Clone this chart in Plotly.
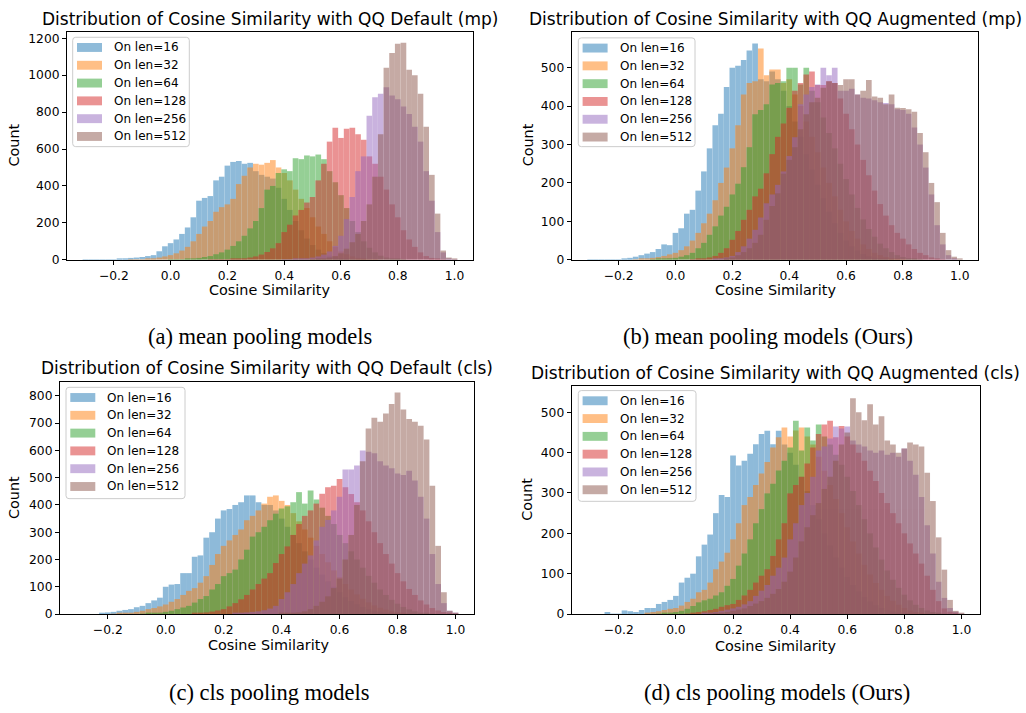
import plotly.graph_objects as go

W, H = 1026, 713
BIN_W = 0.02
# histogram bin centres from -0.30 to 1.00 (66 bins of width 0.02)
bin_centers = [round(-0.30 + BIN_W * i, 2) for i in range(66)]

labels = ["On len=16", "On len=32", "On len=64", "On len=128", "On len=256", "On len=512"]
colors = ["#1f77b4", "#ff7f0e", "#2ca02c", "#d62728", "#9467bd", "#8c564b"]
colors_alpha = ["rgba(31,119,180,0.5)", "rgba(255,127,14,0.5)", "rgba(44,160,44,0.5)",
                "rgba(214,39,40,0.5)", "rgba(148,103,189,0.5)", "rgba(140,86,75,0.5)"]

x_tick_vals = [-0.2, 0.0, 0.2, 0.4, 0.6, 0.8, 1.0]
x_tick_text = ["\u22120.2", "0.0", "0.2", "0.4", "0.6", "0.8", "1.0"]

titles = [
    "Distribution of Cosine Similarity with QQ Default (mp)",
    "Distribution of Cosine Similarity with QQ Augmented (mp)",
    "Distribution of Cosine Similarity with QQ Default (cls)",
    "Distribution of Cosine Similarity with QQ Augmented (cls)",
]
captions = [
    "(a) mean pooling models",
    "(b) mean pooling models (Ours)",
    "(c) cls pooling models",
    "(d) cls pooling models (Ours)",
]
y_ticks = [
    [0, 200, 400, 600, 800, 1000, 1200],
    [0, 100, 200, 300, 400, 500],
    [0, 100, 200, 300, 400, 500, 600, 700, 800],
    [0, 100, 200, 300, 400, 500],
]
y_max = [1232, 592, 852, 566]

# ---------------- (a) QQ Default (mp) ----------------
a_len16 = [1, 1, 1, 1, 1, 2, 3, 8, 10, 12,
           15, 20, 25, 46, 73, 90, 110, 140, 175, 230,
           320, 335, 345, 430, 450, 510, 530, 535, 520, 525,
           480, 460, 450, 440, 390, 330, 270, 210, 160, 115,
           80, 55, 36, 22, 13, 8, 4, 2, 1, 1,
           0, 0, 0, 0, 0, 0, 0, 0, 0, 0,
           0, 0, 0, 0, 0, 0]
a_len32 = [0, 0, 0, 0, 0, 0, 0, 0, 1, 1,
           2, 5, 8, 12, 18, 25, 35, 50, 70, 100,
           140, 180, 210, 260, 285, 300, 330, 410, 455, 500,
           520, 515, 525, 540, 500, 470, 430, 380, 330, 280,
           230, 180, 140, 100, 70, 45, 30, 18, 10, 5,
           2, 1, 0, 0, 0, 0, 0, 0, 0, 0,
           0, 0, 0, 0, 0, 0]
a_len64 = [0, 0, 0, 0, 0, 0, 0, 0, 0, 0,
           0, 0, 0, 0, 0, 1, 1, 2, 4, 6,
           10, 15, 20, 30, 40, 55, 75, 100, 130, 170,
           210, 280, 380, 400, 470, 490, 480, 550, 545, 565,
           560, 570, 545, 480, 420, 350, 280, 210, 150, 100,
           65, 40, 22, 12, 6, 3, 1, 0, 0, 0,
           0, 0, 0, 0, 0, 0]
a_len128 = [0, 0, 0, 0, 0, 0, 0, 0, 0, 0,
            0, 0, 0, 0, 0, 0, 0, 0, 0, 0,
            0, 0, 1, 1, 2, 2, 3, 5, 8, 12,
            18, 28, 42, 62, 90, 150, 190, 240, 270, 310,
            340, 430, 520, 640, 715, 660, 710, 715, 680, 650,
            560, 520, 450, 380, 300, 230, 160, 110, 70, 40,
            20, 10, 4, 1, 0, 0]
a_len256 = [0, 0, 0, 0, 0, 0, 0, 0, 0, 0,
            0, 0, 0, 0, 0, 0, 0, 0, 0, 0,
            0, 0, 0, 0, 0, 0, 0, 0, 0, 0,
            0, 0, 0, 0, 0, 1, 2, 3, 5, 8,
            12, 18, 28, 45, 75, 130, 220, 340, 480, 560,
            780, 880, 900, 935, 890, 870, 830, 790, 720, 640,
            480, 320, 150, 40, 8, 1]
a_len512 = [0, 0, 0, 0, 0, 0, 0, 0, 0, 0,
            0, 0, 0, 0, 0, 0, 0, 0, 0, 0,
            0, 0, 0, 0, 0, 0, 0, 0, 0, 0,
            0, 0, 0, 0, 0, 0, 0, 0, 0, 0,
            2, 4, 7, 12, 20, 35, 60, 95, 140, 210,
            300, 450, 680, 1040, 1120, 1170, 1175, 1030, 1000, 900,
            720, 460, 250, 50, 12, 3]

# ---------------- (b) QQ Augmented (mp) ----------------
b_len16 = [1, 1, 1, 1, 1, 1, 2, 5, 8, 12,
           16, 20, 28, 40, 38, 70, 82, 120, 130, 180,
           230, 290, 350, 380, 450, 500, 505, 520, 545, 563,
           470, 465, 490, 470, 440, 400, 360, 320, 275, 235,
           195, 160, 125, 95, 70, 50, 35, 24, 15, 9,
           5, 3, 2, 1, 0, 0, 0, 0, 0, 0,
           0, 0, 0, 0, 0, 0]
b_len32 = [0, 0, 0, 0, 0, 0, 0, 0, 1, 2,
           3, 5, 7, 10, 14, 18, 25, 35, 50, 70,
           95, 120, 155, 200, 240, 290, 350, 430, 460, 465,
           550, 480, 495, 495, 460, 470, 430, 400, 360, 320,
           280, 240, 200, 165, 130, 100, 75, 55, 40, 28,
           18, 12, 7, 4, 2, 1, 0, 0, 0, 0,
           0, 0, 0, 0, 0, 0]
b_len64 = [0, 0, 0, 0, 0, 0, 0, 0, 0, 0,
           0, 1, 2, 3, 4, 5, 8, 12, 18, 30,
           44, 65, 87, 115, 138, 170, 198, 241, 293, 379,
           390, 405, 456, 460, 465, 500, 500, 456, 500, 440,
           410, 370, 330, 290, 250, 210, 170, 135, 105, 80,
           60, 42, 30, 20, 12, 7, 4, 2, 1, 0,
           0, 0, 0, 0, 0, 0]
b_len128 = [0, 0, 0, 0, 0, 0, 0, 0, 0, 0,
            0, 0, 0, 0, 0, 0, 0, 0, 1, 2,
            3, 6, 10, 18, 30, 52, 75, 104, 130, 165,
            185, 225, 275, 320, 355, 396, 440, 460, 482, 490,
            455, 455, 465, 460, 420, 380, 340, 300, 260, 220,
            180, 145, 115, 90, 70, 55, 40, 28, 18, 12,
            6, 3, 1, 0, 0, 0]
b_len256 = [0, 0, 0, 0, 0, 0, 0, 0, 0, 0,
            0, 0, 0, 0, 0, 0, 0, 0, 0, 0,
            0, 0, 2, 4, 6, 10, 20, 35, 55, 78,
            110, 147, 170, 195, 230, 270, 319, 405, 430, 450,
            456, 500, 480, 500, 440, 440, 445, 430, 422, 420,
            415, 410, 408, 405, 392, 390, 380, 344, 300, 240,
            170, 90, 40, 12, 4, 0]
b_len512 = [0, 0, 0, 0, 0, 0, 0, 0, 0, 0,
            0, 0, 0, 0, 0, 0, 0, 0, 0, 0,
            0, 0, 0, 0, 3, 6, 12, 20, 30, 44,
            65, 104, 140, 173, 224, 260, 293, 340, 379, 410,
            422, 448, 465, 460, 455, 470, 470, 430, 440, 468,
            425, 422, 405, 430, 396, 395, 392, 385, 330, 280,
            200, 150, 70, 25, 8, 2]

# ---------------- (c) QQ Default (cls) ----------------
c_len16 = [0, 0, 0, 0, 3, 6, 8, 12, 15, 18,
           25, 30, 40, 50, 60, 100, 108, 110, 150, 150,
           210, 215, 280, 300, 350, 380, 385, 400, 410, 435,
           435, 410, 400, 400, 380, 350, 320, 290, 260, 230,
           200, 170, 145, 120, 100, 80, 62, 48, 36, 26,
           18, 12, 8, 5, 3, 2, 1, 0, 0, 0,
           0, 0, 0, 0, 0, 0]
c_len32 = [0, 0, 0, 0, 0, 0, 1, 2, 3, 5,
           8, 12, 18, 22, 28, 35, 45, 55, 70, 85,
           95, 115, 139, 180, 220, 250, 270, 290, 310, 344,
           360, 380, 405, 430, 435, 415, 400, 370, 340, 310,
           280, 250, 220, 190, 160, 135, 110, 90, 72, 56,
           43, 32, 23, 16, 10, 6, 3, 1, 0, 0,
           0, 0, 0, 0, 0, 0]
c_len64 = [0, 0, 0, 0, 0, 0, 0, 0, 0, 0,
           0, 1, 2, 3, 5, 8, 12, 18, 24, 30,
           42, 55, 66, 90, 110, 139, 150, 163, 200, 236,
           284, 300, 320, 344, 368, 387, 395, 410, 447, 405,
           453, 420, 390, 360, 330, 290, 260, 230, 200, 170,
           140, 115, 90, 70, 52, 38, 26, 17, 10, 5,
           2, 1, 0, 0, 0, 0]
c_len128 = [0, 0, 0, 0, 0, 0, 0, 0, 0, 0,
            0, 0, 0, 0, 0, 0, 0, 0, 0, 0,
            2, 4, 6, 9, 13, 18, 28, 40, 54, 70,
            90, 110, 130, 150, 187, 220, 248, 290, 330, 360,
            380, 405, 441, 465, 470, 495, 465, 440, 410, 380,
            340, 300, 260, 220, 185, 150, 120, 92, 70, 50,
            35, 22, 13, 7, 3, 1]
c_len256 = [0, 0, 0, 0, 0, 0, 0, 0, 0, 0,
            0, 0, 0, 0, 0, 0, 0, 0, 0, 0,
            0, 0, 0, 0, 0, 0, 0, 2, 4, 6,
            8, 10, 14, 20, 30, 55, 80, 110, 150, 185,
            215, 270, 320, 345, 380, 430, 530, 530, 545, 600,
            595, 590, 560, 545, 535, 515, 510, 525, 490, 430,
            350, 220, 110, 40, 12, 3]
c_len512 = [0, 0, 0, 0, 0, 0, 0, 0, 0, 0,
            0, 0, 0, 0, 0, 0, 0, 0, 0, 0,
            0, 0, 0, 0, 0, 0, 0, 0, 0, 0,
            0, 0, 0, 0, 0, 2, 3, 4, 6, 10,
            18, 30, 45, 65, 95, 130, 200, 290, 400, 560,
            680, 720, 705, 735, 770, 812, 750, 715, 705, 690,
            640, 470, 250, 80, 12, 3]

# ---------------- (d) QQ Augmented (cls) ----------------
d_len16 = [0, 0, 0, 5, 1, 1, 9, 7, 5, 10,
           15, 15, 25, 30, 35, 45, 78, 90, 100, 143,
           172, 197, 250, 295, 290, 393, 368, 380, 397, 421,
           446, 454, 421, 454, 420, 400, 370, 340, 305, 270,
           235, 200, 170, 140, 115, 92, 72, 56, 42, 31,
           22, 15, 10, 6, 3, 2, 1, 0, 0, 0,
           0, 0, 0, 0, 0, 0]
d_len32 = [0, 0, 0, 0, 0, 0, 0, 0, 0, 0,
           3, 5, 7, 10, 13, 15, 21, 30, 38, 54,
           60, 78, 111, 130, 152, 185, 225, 270, 290, 320,
           348, 377, 413, 438, 462, 440, 455, 462, 440, 420,
           390, 355, 320, 285, 250, 215, 180, 150, 122, 98,
           77, 60, 45, 33, 23, 15, 9, 5, 2, 1,
           0, 0, 0, 0, 0, 0]
d_len64 = [0, 0, 0, 0, 0, 0, 0, 0, 0, 0,
           0, 0, 1, 2, 3, 5, 8, 13, 20, 29,
           34, 38, 46, 54, 70, 87, 120, 150, 185, 225,
           260, 299, 323, 356, 380, 413, 479, 405, 462, 430,
           470, 440, 420, 395, 370, 340, 305, 270, 235, 200,
           165, 135, 108, 85, 65, 48, 34, 23, 15, 9,
           5, 2, 1, 0, 0, 0]
d_len128 = [0, 0, 0, 0, 0, 0, 0, 0, 0, 0,
            0, 0, 0, 0, 0, 0, 0, 1, 2, 5,
            7, 10, 13, 18, 22, 25, 35, 46, 60, 78,
            95, 111, 144, 185, 225, 299, 320, 340, 373, 413,
            446, 470, 479, 438, 466, 440, 420, 400, 380, 355,
            330, 300, 275, 250, 225, 200, 175, 150, 125, 95,
            60, 32, 14, 6, 2, 0]
d_len256 = [0, 0, 0, 0, 0, 0, 0, 0, 0, 0,
            0, 0, 0, 0, 0, 0, 0, 0, 0, 0,
            2, 3, 5, 8, 11, 14, 18, 24, 32, 45,
            58, 72, 95, 115, 140, 185, 225, 270, 300, 340,
            405, 415, 435, 465, 460, 465, 430, 420, 415, 405,
            400, 405, 395, 400, 390, 410, 380, 345, 290, 220,
            150, 80, 40, 15, 6, 1]
d_len512 = [0, 0, 0, 0, 0, 0, 0, 0, 0, 0,
            0, 0, 0, 0, 0, 0, 0, 0, 0, 0,
            0, 1, 2, 3, 5, 8, 11, 14, 20, 26,
            32, 40, 50, 62, 80, 105, 140, 180, 215, 245,
            275, 310, 340, 380, 420, 450, 535, 500, 480, 520,
            470, 490, 430, 420, 400, 410, 425, 420, 415, 350,
            280, 190, 110, 35, 8, 3]

panel_series = [
    [a_len16, a_len32, a_len64, a_len128, a_len256, a_len512],
    [b_len16, b_len32, b_len64, b_len128, b_len256, b_len512],
    [c_len16, c_len32, c_len64, c_len128, c_len256, c_len512],
    [d_len16, d_len32, d_len64, d_len128, d_len256, d_len512],
]

# ---------------- layout geometry (pixels) ----------------
boxes = [(67, 31.7, 473, 261.7), (571.7, 31.7, 978.3, 261.7),
         (60, 385, 474.3, 620), (571.7, 389, 980, 620)]
title_y = [17.9, 17.9, 371.2, 376]
xlabel_pos = [(269.5, 292.2), (775, 292.2), (268, 651.3), (775, 652.5)]
ylabel_pos = [(14.2, 146), (528, 146), (14.2, 502.5), (527.5, 504)]
caption_pos = [(260, 339), (768, 339), (269, 699), (777, 699)]
legend_box = [(72.7, 36.7, 189.3, 147.3), (578.3, 37.3, 695, 147.3),
              (66, 390.7, 185, 503.3), (578.3, 394, 696, 506)]

FONT = "DejaVu Sans"


def px(x):
    return x / W


def py(y):
    return 1 - y / H


fig = go.Figure()
layout = dict(
    width=W, height=H, margin=dict(l=0, r=0, t=0, b=0),
    paper_bgcolor="white", plot_bgcolor="white",
    barmode="overlay", showlegend=False,
    font=dict(family=FONT, color="black"),
)
annotations = []
shapes = []

for k in range(4):
    sfx = "" if k == 0 else str(k + 1)
    xa, ya = "x" + sfx, "y" + sfx
    for vals, lab, col in zip(panel_series[k], labels, colors):
        assert len(vals) == len(bin_centers), (k, lab, len(vals))
        fig.add_trace(go.Bar(
            x=bin_centers, y=vals, width=BIN_W, name=lab,
            marker=dict(color=col, line=dict(width=0)), opacity=0.5,
            xaxis=xa, yaxis=ya, hoverinfo="x+y+name",
        ))
    l, t, r, b = boxes[k]
    common = dict(showline=True, linecolor="black", linewidth=1, mirror=True,
                  ticks="outside", ticklen=4, tickwidth=1, tickcolor="black",
                  showgrid=False, zeroline=False,
                  tickfont=dict(family=FONT, size=12.3, color="black"))
    layout["xaxis" + sfx] = dict(domain=[px(l), px(r)], range=[-0.365, 1.065],
                                 tickvals=x_tick_vals, ticktext=x_tick_text,
                                 anchor=ya, **common)
    layout["yaxis" + sfx] = dict(domain=[py(b), py(t)], range=[0, y_max[k]],
                                 tickvals=y_ticks[k], anchor=xa, **common)

    # legend (frame + patches + labels, matplotlib style)
    lx0, ly0, lx1, ly1 = legend_box[k]
    rad = 3
    path = (f"M {px(lx0 + rad)},{py(ly0)} L {px(lx1 - rad)},{py(ly0)} "
            f"Q {px(lx1)},{py(ly0)} {px(lx1)},{py(ly0 + rad)} "
            f"L {px(lx1)},{py(ly1 - rad)} Q {px(lx1)},{py(ly1)} {px(lx1 - rad)},{py(ly1)} "
            f"L {px(lx0 + rad)},{py(ly1)} Q {px(lx0)},{py(ly1)} {px(lx0)},{py(ly1 - rad)} "
            f"L {px(lx0)},{py(ly0 + rad)} Q {px(lx0)},{py(ly0)} {px(lx0 + rad)},{py(ly0)} Z")
    shapes.append(dict(type="path", path=path, xref="paper", yref="paper",
                       fillcolor="rgba(255,255,255,0.8)", line=dict(color="#cccccc", width=1),
                       layer="above"))
    for j, (lab, ca) in enumerate(zip(labels, colors_alpha)):
        cy = ly0 + 10.3 + 18.0 * j
        shapes.append(dict(type="rect", xref="paper", yref="paper",
                           x0=px(lx0 + 4.3), x1=px(lx0 + 29.3),
                           y0=py(cy - 4.5), y1=py(cy + 4.5),
                           fillcolor=ca, line=dict(width=0), layer="above"))
        annotations.append(dict(text=lab, x=px(lx0 + 39.3), y=py(cy),
                                xref="paper", yref="paper", showarrow=False,
                                xanchor="left", yanchor="middle",
                                font=dict(family=FONT, size=12, color="black")))
    # title
    annotations.append(dict(text=titles[k], x=px((l + r) / 2), y=py(title_y[k]),
                            xref="paper", yref="paper", showarrow=False,
                            xanchor="center", yanchor="middle",
                            font=dict(family=FONT, size=17, color="black")))
    # axis labels
    annotations.append(dict(text="Cosine Similarity", x=px(xlabel_pos[k][0]), y=py(xlabel_pos[k][1]),
                            xref="paper", yref="paper", showarrow=False,
                            xanchor="center", yanchor="middle",
                            font=dict(family=FONT, size=14.4, color="black")))
    annotations.append(dict(text="Count", x=px(ylabel_pos[k][0]), y=py(ylabel_pos[k][1]),
                            xref="paper", yref="paper", showarrow=False, textangle=-90,
                            xanchor="center", yanchor="middle",
                            font=dict(family=FONT, size=14.4, color="black")))
    # caption
    annotations.append(dict(text=captions[k], x=px(caption_pos[k][0]), y=py(caption_pos[k][1]),
                            xref="paper", yref="paper", showarrow=False,
                            xanchor="center", yanchor="middle",
                            font=dict(family="Liberation Serif", size=22.5, color="black")))

layout["annotations"] = annotations
layout["shapes"] = shapes
fig.update_layout(**layout)
fig.write_html(
    "out.html",
    config={"displayModeBar": False},
    post_script="document.body.style.margin='0';document.documentElement.style.overflow='hidden';",
)
